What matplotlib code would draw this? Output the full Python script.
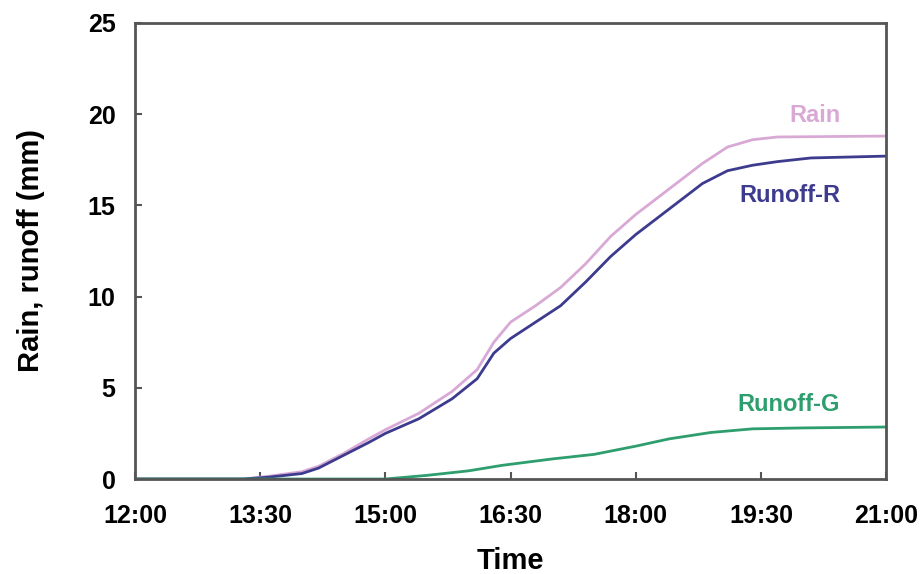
import numpy as np
import matplotlib.pyplot as plt

# hours after 12:00
rain_t = [0, 1.3, 1.6, 2.0, 2.2, 2.5, 2.8, 3.0, 3.4, 3.8, 4.1, 4.3, 4.5, 4.8, 5.1,
          5.4, 5.7, 6.0, 6.4, 6.8, 7.1, 7.4, 7.7, 9.0]
rain_mm = [0, 0, 0.15, 0.4, 0.7, 1.4, 2.2, 2.7, 3.6, 4.8, 6.0, 7.5, 8.6, 9.5, 10.5,
           11.8, 13.3, 14.5, 15.9, 17.3, 18.2, 18.6, 18.75, 18.8]

runoff_r_t = [0, 1.3, 1.6, 2.0, 2.2, 2.5, 2.8, 3.0, 3.4, 3.8, 4.1, 4.3, 4.5, 4.8, 5.1,
              5.4, 5.7, 6.0, 6.4, 6.8, 7.1, 7.4, 7.7, 8.1, 9.0]
runoff_r_mm = [0, 0, 0.1, 0.3, 0.6, 1.3, 2.0, 2.5, 3.3, 4.4, 5.5, 6.9, 7.7, 8.6, 9.5,
               10.8, 12.2, 13.4, 14.8, 16.2, 16.9, 17.2, 17.4, 17.6, 17.7]

runoff_g_t = [0, 3.0, 3.5, 4.0, 4.4, 5.0, 5.5, 6.0, 6.4, 6.9, 7.4, 8.0, 9.0]
runoff_g_mm = [0, 0, 0.2, 0.45, 0.75, 1.1, 1.35, 1.8, 2.2, 2.55, 2.75, 2.8, 2.85]

tick_hours = [0, 1.5, 3, 4.5, 6, 7.5, 9]
tick_labels = ['12:00', '13:30', '15:00', '16:30', '18:00', '19:30', '21:00']

plt.rcParams['font.family'] = ['Liberation Sans', 'DejaVu Sans']
plt.rcParams['font.weight'] = 'bold'

fig = plt.figure(figsize=(9.23, 5.74), dpi=100)
ax = fig.add_axes([0.1463, 0.1655, 0.8137, 0.7945])

rain_c = '#d9a9d6'
r_c = '#3d3b8e'
g_c = '#2e9e6e'

ax.plot(rain_t, rain_mm, color=rain_c, lw=2)
ax.plot(runoff_r_t, runoff_r_mm, color=r_c, lw=2)
ax.plot(runoff_g_t, runoff_g_mm, color=g_c, lw=2)

ax.text(8.45, 19.95, 'Rain', color=rain_c, fontsize=17, fontweight='bold', ha='right', va='center')
ax.text(8.45, 15.55, 'Runoff-R', color=r_c, fontsize=17, fontweight='bold', ha='right', va='center')
ax.text(8.45, 4.1, 'Runoff-G', color=g_c, fontsize=17, fontweight='bold', ha='right', va='center')

ax.set_xlim(0, 9)
ax.set_ylim(0, 25)
ax.set_xticks(tick_hours)
ax.set_xticklabels(tick_labels)
ax.set_yticks([0, 5, 10, 15, 20, 25])

ax.set_xlabel('Time', fontsize=21, fontweight='bold', labelpad=14)
ax.set_ylabel('Rain, runoff (mm)', fontsize=21, fontweight='bold', labelpad=31)

for s in ax.spines.values():
    s.set_color('#555555')
    s.set_linewidth(2)
ax.tick_params(direction='in', length=5, width=1.5, color='#555555', labelsize=18)
ax.tick_params(axis='x', pad=18)
ax.tick_params(axis='y', pad=14)

fig.savefig('out.png', dpi=100)
